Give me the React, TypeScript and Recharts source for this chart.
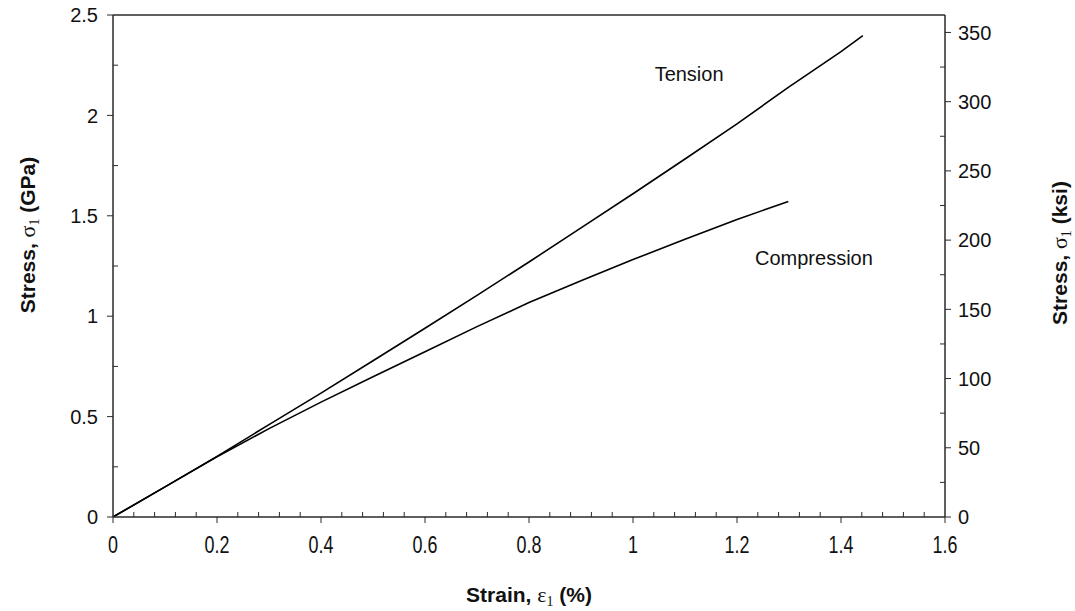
import { LineChart, Line, XAxis, YAxis, ReferenceLine, ReferenceDot } from "recharts";

const tension = [
  { strain: 0, stress: 0 },
  { strain: 0.1, stress: 0.15 },
  { strain: 0.2, stress: 0.302 },
  { strain: 0.3, stress: 0.46 },
  { strain: 0.4, stress: 0.617 },
  { strain: 0.5, stress: 0.778 },
  { strain: 0.6, stress: 0.94 },
  { strain: 0.7, stress: 1.104 },
  { strain: 0.8, stress: 1.27 },
  { strain: 0.9, stress: 1.44 },
  { strain: 1.0, stress: 1.61 },
  { strain: 1.1, stress: 1.783 },
  { strain: 1.2, stress: 1.958 },
  { strain: 1.3, stress: 2.142 },
  { strain: 1.315, stress: 2.168 },
  { strain: 1.4, stress: 2.318 },
  { strain: 1.442, stress: 2.397 },
];

const compression = [
  { strain: 0, stress: 0 },
  { strain: 0.1, stress: 0.15 },
  { strain: 0.2, stress: 0.3 },
  { strain: 0.3, stress: 0.44 },
  { strain: 0.4, stress: 0.572 },
  { strain: 0.5, stress: 0.698 },
  { strain: 0.6, stress: 0.823 },
  { strain: 0.7, stress: 0.948 },
  { strain: 0.8, stress: 1.068 },
  { strain: 0.9, stress: 1.177 },
  { strain: 1.0, stress: 1.282 },
  { strain: 1.1, stress: 1.383 },
  { strain: 1.2, stress: 1.482 },
  { strain: 1.2987, stress: 1.571 },
];

// ticks: majors get labels, the rest are minor marks
const xTicks = Array.from({ length: 41 }, (_, i) => +(i * 0.04).toFixed(2));
const gpaTicks = [0, 0.25, 0.5, 0.75, 1, 1.25, 1.5, 1.75, 2, 2.25, 2.5];
const ksiTicks = [0, 25, 50, 75, 100, 125, 150, 175, 200, 225, 250, 275, 300, 325, 350];
const KSI_MAX = 362.6; // 2.5 GPa in ksi

const AXIS = "#2a2a2a";
const FONT = "'Liberation Sans', Arial, Helvetica, sans-serif";

const isMajor = (v: number, step: number) => Math.abs(v / step - Math.round(v / step)) < 1e-6;

function XTick({ x, y, payload }: any) {
  const v = payload.value;
  const major = isMajor(v, 0.2);
  return (
    <g>
      <line x1={x} x2={x} y1={y} y2={major ? y + 6 : y - 5} stroke={AXIS} strokeWidth={1} />
      {major && (
        <text
          transform={`translate(${x} ${y + 36}) scale(0.78 1)`}
          textAnchor="middle"
          fontFamily={FONT}
          fontSize={23}
          fill="#111"
        >
          {String(v)}
        </text>
      )}
    </g>
  );
}

function LeftTick({ x, y, payload }: any) {
  const v = payload.value;
  const major = isMajor(v, 0.5);
  return (
    <g>
      <line x1={x} x2={major ? x - 6 : x + 5} y1={y} y2={y} stroke={AXIS} strokeWidth={1} />
      {major && (
        <text x={x - 15} y={y} dy="0.36em" textAnchor="end" fontFamily={FONT} fontSize={20} fill="#111">
          {String(v)}
        </text>
      )}
    </g>
  );
}

function RightTick({ x, y, payload }: any) {
  const v = payload.value;
  const major = isMajor(v, 50);
  return (
    <g>
      <line x1={x} x2={major ? x + 6 : x - 5} y1={y} y2={y} stroke={AXIS} strokeWidth={1} />
      {major && (
        <text x={x + 13} y={y} dy="0.36em" textAnchor="start" fontFamily={FONT} fontSize={20} fill="#111">
          {String(v)}
        </text>
      )}
    </g>
  );
}

function Title({ x, y, angle, sym, unit }: { x: number; y: number; angle: number; sym: string; unit: string }) {
  return (
    <text
      x={x}
      y={y}
      textAnchor="middle"
      transform={angle ? `rotate(${angle} ${x} ${y})` : undefined}
      fontFamily={FONT}
      fontWeight="bold"
      fontSize={21}
      fill="#111"
    >
      <tspan>{sym === "ε" ? "Strain, " : "Stress, "}</tspan>
      <tspan fontFamily="'Liberation Serif', 'Times New Roman', serif" fontWeight="normal" fontSize={22}>
        {sym}
      </tspan>
      <tspan fontFamily="'Liberation Serif', serif" fontWeight="normal" fontSize={14} dy={4}>
        1
      </tspan>
      <tspan dy={-4}>{` (${unit})`}</tspan>
    </text>
  );
}

export default function App() {
  return (
    <div style={{ position: "absolute", left: 0, top: 0, background: "#fff" }}>
      <LineChart width={1075} height={611} margin={{ top: 15, right: 0, bottom: 0, left: 0 }}>
        <XAxis
          type="number"
          dataKey="strain"
          domain={[0, 1.6]}
          ticks={xTicks}
          interval={0}
          tickSize={0}
          tickMargin={0}
          tickLine={false}
          tick={<XTick />}
          height={94}
          stroke={AXIS}
          strokeWidth={1.5}
          allowDataOverflow
          label={{ content: () => <Title x={529} y={602} angle={0} sym="ε" unit="%" /> }}
        />
        <YAxis
          yAxisId="gpa"
          type="number"
          domain={[0, 2.5]}
          ticks={gpaTicks}
          interval={0}
          tickSize={0}
          tickMargin={0}
          tickLine={false}
          tick={<LeftTick />}
          width={113}
          stroke={AXIS}
          strokeWidth={1.5}
          allowDataOverflow
          label={{ content: () => <Title x={35} y={235} angle={-90} sym="σ" unit="GPa" /> }}
        />
        <YAxis
          yAxisId="ksi"
          orientation="right"
          type="number"
          domain={[0, KSI_MAX]}
          ticks={ksiTicks}
          interval={0}
          tickSize={0}
          tickMargin={0}
          tickLine={false}
          tick={<RightTick />}
          width={130}
          stroke={AXIS}
          strokeWidth={1.5}
          allowDataOverflow
          label={{ content: () => <Title x={1067} y={253} angle={-90} sym="σ" unit="ksi" /> }}
        />
        <ReferenceLine yAxisId="gpa" y={2.5} stroke={AXIS} strokeWidth={1.5} />
        <Line
          yAxisId="gpa"
          data={tension}
          dataKey="stress"
          type="linear"
          stroke="#000"
          strokeWidth={1.6}
          dot={false}
          isAnimationActive={false}
        />
        <Line
          yAxisId="gpa"
          data={compression}
          dataKey="stress"
          type="linear"
          stroke="#000"
          strokeWidth={1.6}
          dot={false}
          isAnimationActive={false}
        />
        <ReferenceDot
          yAxisId="gpa"
          x={1.032}
          y={2.206}
          r={0}
          stroke="none"
          label={{ value: "Tension", position: "right", fontFamily: FONT, fontSize: 20, fill: "#111" }}
        />
        <ReferenceDot
          yAxisId="gpa"
          x={1.225}
          y={1.29}
          r={0}
          stroke="none"
          label={{ value: "Compression", position: "right", fontFamily: FONT, fontSize: 20, fill: "#111" }}
        />
      </LineChart>
    </div>
  );
}
